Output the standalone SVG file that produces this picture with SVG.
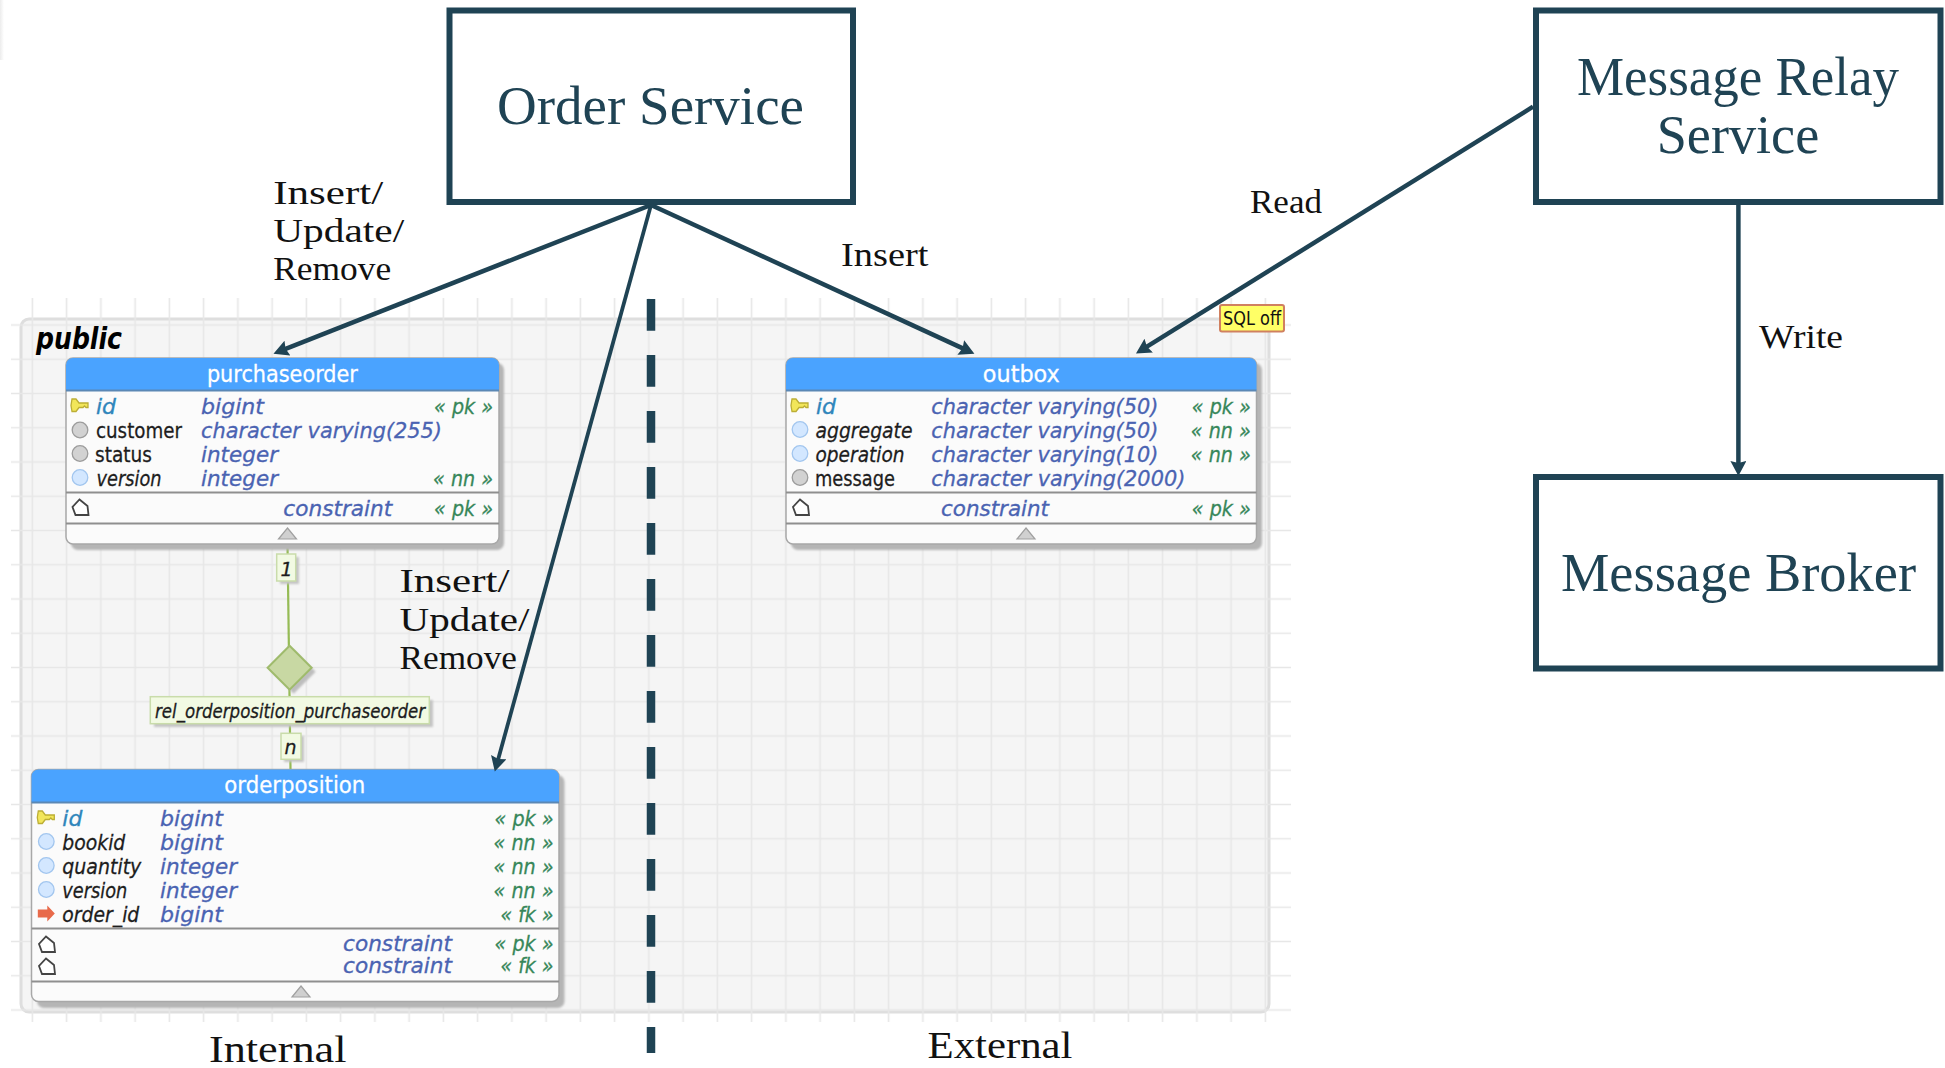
<svg xmlns="http://www.w3.org/2000/svg" xmlns:xlink="http://www.w3.org/1999/xlink" width="1945" height="1068" viewBox="0 0 1945 1068">
<style>
.box{fill:#fff;stroke:#1f4354;stroke-width:6}
.big{font-family:"Liberation Serif",serif;font-size:54px;fill:#1f4354}
.lab{font-family:"Liberation Serif",serif;font-size:34px;fill:#111}
.conn{fill:none;stroke:#1f4354;stroke-width:4.5}
.shadow{fill:#b5b5b5;filter:url(#soft)}
.body{fill:#fbfbfb;stroke:#a8a8a8;stroke-width:1.5}
.head{fill:#4aa3ff}
.headline{stroke:#5b88b5;stroke-width:2}
.div{stroke:#8f8f8f;stroke-width:2}
.tri{fill:#d0d0d0;stroke:#a0a0a0;stroke-width:1.2}
text.t{font-family:"DejaVu Sans",sans-serif;font-size:21.5px;stroke-width:.3px}
text.title{fill:#fff;stroke:#fff;font-size:22.5px}
.pkn{fill:#2f86bb;stroke:#2f86bb;font-style:italic}
.nn{fill:#1d1d1d;stroke:#1d1d1d;font-style:italic}
.pl{fill:#1d1d1d;stroke:#1d1d1d}
.ty{fill:#4a63b2;stroke:#4a63b2;font-style:italic}
.st{fill:#37875a;stroke:#37875a;font-style:italic}
.note{fill:#f2fae3;stroke:#c9dcaa;stroke-width:1.5}
.noteS{fill:#c4c4c4;filter:url(#soft)}
.rel{fill:none;stroke:#95bb55;stroke-width:2.2}
</style>
<defs>
<filter id="soft" x="-10%" y="-10%" width="120%" height="120%"><feGaussianBlur stdDeviation="1.2"/></filter>
<linearGradient id="edge" x1="0" x2="1" y1="0" y2="0"><stop offset="0" stop-color="#ececec"/><stop offset="1" stop-color="#fff"/></linearGradient>
<pattern id="grid" patternUnits="userSpaceOnUse" x="15.275" y="307.875" width="34.25" height="34.25"><path d="M17.125 0V34.25M0 17.125H34.25" fill="none" stroke="#e7e7e7" stroke-width="1.6"/></pattern>
<marker id="arr" markerUnits="userSpaceOnUse" markerWidth="16" markerHeight="18" refX="4" refY="8" orient="auto"><path d="M0,0 L15,8 L0,16 L2,8 Z" fill="#1f4354"/></marker>
<g id="key"><path d="M-8,-7 h4 l3,4 h9 v4.500 h-2 l-1.500,-1.500 -1.500,1.500 h-4 l-3,4 h-4 l-1,-6 z" fill="#f2e65a" stroke="#bcae35" stroke-width="1.300"/></g>
<circle id="cg" r="7.800" fill="#d2d2d2" stroke="#9c9c9c" stroke-width="1.300"/>
<circle id="cb" r="7.800" fill="#d3e7ff" stroke="#a2c6ef" stroke-width="1.300"/>
<path id="pent" d="M-1,-8.500 L7,-2 L8,7 L-5,7 L-8,-1 Z" fill="#fff" stroke="#444" stroke-width="1.800"/>
<path id="fk" d="M8.500,0 L1,-8 V-4 H-8.500 V4 H1 V8 Z" fill="#e86a4a"/>
</defs>
<rect x="0" y="0" width="4" height="60" fill="url(#edge)"/>

<g id="schema-public">
<rect x="21" y="319" width="1248" height="693" rx="8" fill="#f5f5f5" stroke="#dedede" stroke-width="3"/>
<rect x="11" y="298" width="1280" height="724" fill="url(#grid)"/>
<text class="t" x="36" y="349" style="font-size:30px;font-weight:bold;font-style:italic;fill:#000" textLength="86" lengthAdjust="spacingAndGlyphs">public</text>
</g>
<g id="sql-off">
<rect x="1220" y="305" width="64" height="26.500" rx="2" fill="#ffff66" stroke="#d08060" stroke-width="2"/>
<text class="t" x="1223" y="325" style="font-size:19px;fill:#111" textLength="58" lengthAdjust="spacingAndGlyphs">SQL off</text>
</g>

<g id="relationship">
<path class="rel" d="M287.500,544 L290.500,769"/>
<rect class="noteS" x="280" y="557" width="19" height="27"/>
<rect class="note" x="276.700" y="554" width="19" height="27"/>
<text class="t nn" x="286.500" y="576" text-anchor="middle" style="font-size:19px">1</text>
<path d="M293.600,649.700 L315.600,671.700 L293.600,693.700 L271.600,671.700 Z" fill="#bdbdbd" filter="url(#soft)"/>
<path d="M289.600,645.700 L311.600,667.700 L289.600,689.700 L267.600,667.700 Z" fill="#c8d8a3" stroke="#9fbb6c" stroke-width="2"/>
<rect class="noteS" x="154" y="700" width="279" height="27"/>
<rect class="note" x="150.300" y="696.700" width="279" height="27"/>
<text class="t nn" x="155" y="718" style="font-size:19.500px" textLength="270" lengthAdjust="spacingAndGlyphs">rel_orderposition_purchaseorder</text>
<rect class="noteS" x="284" y="736" width="20" height="26"/>
<rect class="note" x="281" y="733.300" width="20" height="26"/>
<text class="t nn" x="290.500" y="754" text-anchor="middle" style="font-size:19px">n</text>
</g>

<g id="purchaseorder">
<rect class="shadow" x="71" y="363" width="433" height="187" rx="7"/>
<rect class="body" x="66" y="358" width="433" height="186" rx="7"/>
<path class="head" d="M66,390 V365 a7,7 0 0 1 7,-7 H492 a7,7 0 0 1 7,7 V390 Z"/>
<path class="headline" d="M66,390.500H499"/>
<text class="t title" x="282.400" y="381.700" text-anchor="middle" textLength="151" lengthAdjust="spacingAndGlyphs">purchaseorder</text>
<use href="#key" x="80" y="406"/><text class="t pkn" x="96" y="414" textLength="20" lengthAdjust="spacingAndGlyphs">id</text><text class="t ty" x="201" y="414" textLength="63" lengthAdjust="spacingAndGlyphs">bigint</text><text class="t st" x="493" y="414" text-anchor="end" textLength="59" lengthAdjust="spacingAndGlyphs">« pk »</text>
<use href="#cg" x="80" y="430"/><text class="t pl" x="96" y="438" textLength="86" lengthAdjust="spacingAndGlyphs">customer</text><text class="t ty" x="201" y="438" textLength="241" lengthAdjust="spacingAndGlyphs">character varying(255)</text>
<use href="#cg" x="80" y="453.500"/><text class="t pl" x="95" y="462" textLength="57" lengthAdjust="spacingAndGlyphs">status</text><text class="t ty" x="201" y="462" textLength="77" lengthAdjust="spacingAndGlyphs">integer</text>
<use href="#cb" x="80" y="477.500"/><text class="t nn" x="96.500" y="486" textLength="65" lengthAdjust="spacingAndGlyphs">version</text><text class="t ty" x="201" y="486" textLength="77" lengthAdjust="spacingAndGlyphs">integer</text><text class="t st" x="493" y="486" text-anchor="end" textLength="60" lengthAdjust="spacingAndGlyphs">« nn »</text>
<path class="div" d="M66,492.500H499M66,523.500H499"/>
<use href="#pent" x="80.500" y="508"/><text class="t ty" x="283.300" y="515.700" textLength="109" lengthAdjust="spacingAndGlyphs">constraint</text><text class="t st" x="493" y="515.700" text-anchor="end" textLength="59" lengthAdjust="spacingAndGlyphs">« pk »</text>
<path class="tri" d="M287.500,528 L296.500,539 H278.500 Z"/>
</g>

<g id="outbox">
<rect class="shadow" x="791" y="363" width="471" height="187" rx="7"/>
<rect class="body" x="786" y="358" width="470.500" height="186" rx="7"/>
<path class="head" d="M786,390 V365 a7,7 0 0 1 7,-7 H1249.500 a7,7 0 0 1 7,7 V390 Z"/>
<path class="headline" d="M786,390.500H1256.500"/>
<text class="t title" x="1021.300" y="381.700" text-anchor="middle" textLength="77" lengthAdjust="spacingAndGlyphs">outbox</text>
<use href="#key" x="800" y="406"/><text class="t pkn" x="816" y="414" textLength="20" lengthAdjust="spacingAndGlyphs">id</text><text class="t ty" x="931.300" y="414" textLength="227" lengthAdjust="spacingAndGlyphs">character varying(50)</text><text class="t st" x="1250.800" y="414" text-anchor="end" textLength="59" lengthAdjust="spacingAndGlyphs">« pk »</text>
<use href="#cb" x="800" y="429.500"/><text class="t nn" x="815.500" y="438" textLength="97" lengthAdjust="spacingAndGlyphs">aggregate</text><text class="t ty" x="931.300" y="438" textLength="227" lengthAdjust="spacingAndGlyphs">character varying(50)</text><text class="t st" x="1250.800" y="438" text-anchor="end" textLength="60" lengthAdjust="spacingAndGlyphs">« nn »</text>
<use href="#cb" x="800" y="453.500"/><text class="t nn" x="815.500" y="462" textLength="89" lengthAdjust="spacingAndGlyphs">operation</text><text class="t ty" x="931.300" y="462" textLength="227" lengthAdjust="spacingAndGlyphs">character varying(10)</text><text class="t st" x="1250.800" y="462" text-anchor="end" textLength="60" lengthAdjust="spacingAndGlyphs">« nn »</text>
<use href="#cg" x="800" y="477.500"/><text class="t pl" x="815" y="486" textLength="80" lengthAdjust="spacingAndGlyphs">message</text><text class="t ty" x="931.300" y="486" textLength="254" lengthAdjust="spacingAndGlyphs">character varying(2000)</text>
<path class="div" d="M786,492.500H1256.500M786,523.500H1256.500"/>
<use href="#pent" x="801" y="508"/><text class="t ty" x="941" y="515.700" textLength="108" lengthAdjust="spacingAndGlyphs">constraint</text><text class="t st" x="1250.800" y="515.700" text-anchor="end" textLength="59" lengthAdjust="spacingAndGlyphs">« pk »</text>
<path class="tri" d="M1026,528 L1035,539 H1017 Z"/>
</g>

<g id="orderposition">
<rect class="shadow" x="37" y="775" width="527.500" height="233" rx="7"/>
<rect class="body" x="31.500" y="769.500" width="527.500" height="232" rx="7"/>
<path class="head" d="M31.500,802 V776.500 a7,7 0 0 1 7,-7 H552 a7,7 0 0 1 7,7 V802 Z"/>
<path class="headline" d="M31.500,802.500H559"/>
<text class="t title" x="294.800" y="793" text-anchor="middle" textLength="141" lengthAdjust="spacingAndGlyphs">orderposition</text>
<use href="#key" x="46.300" y="818"/><text class="t pkn" x="62.300" y="826" textLength="20" lengthAdjust="spacingAndGlyphs">id</text><text class="t ty" x="160" y="826" textLength="63" lengthAdjust="spacingAndGlyphs">bigint</text><text class="t st" x="553.500" y="826" text-anchor="end" textLength="59" lengthAdjust="spacingAndGlyphs">« pk »</text>
<use href="#cb" x="46.300" y="841.500"/><text class="t nn" x="62.300" y="850" textLength="63" lengthAdjust="spacingAndGlyphs">bookid</text><text class="t ty" x="160" y="850" textLength="63" lengthAdjust="spacingAndGlyphs">bigint</text><text class="t st" x="553.500" y="850" text-anchor="end" textLength="60" lengthAdjust="spacingAndGlyphs">« nn »</text>
<use href="#cb" x="46.300" y="865.500"/><text class="t nn" x="62.300" y="874" textLength="79" lengthAdjust="spacingAndGlyphs">quantity</text><text class="t ty" x="160" y="874" textLength="77" lengthAdjust="spacingAndGlyphs">integer</text><text class="t st" x="553.500" y="874" text-anchor="end" textLength="60" lengthAdjust="spacingAndGlyphs">« nn »</text>
<use href="#cb" x="46.300" y="889.500"/><text class="t nn" x="62.300" y="898" textLength="65" lengthAdjust="spacingAndGlyphs">version</text><text class="t ty" x="160" y="898" textLength="77" lengthAdjust="spacingAndGlyphs">integer</text><text class="t st" x="553.500" y="898" text-anchor="end" textLength="60" lengthAdjust="spacingAndGlyphs">« nn »</text>
<use href="#fk" x="46.300" y="913.500"/><text class="t nn" x="62.300" y="922" textLength="77" lengthAdjust="spacingAndGlyphs">order_id</text><text class="t ty" x="160" y="922" textLength="63" lengthAdjust="spacingAndGlyphs">bigint</text><text class="t st" x="553.500" y="922" text-anchor="end" textLength="53" lengthAdjust="spacingAndGlyphs">« fk »</text>
<path class="div" d="M31.500,928.500H559M31.500,981.500H559"/>
<use href="#pent" x="47" y="945"/><text class="t ty" x="343" y="951" textLength="109" lengthAdjust="spacingAndGlyphs">constraint</text><text class="t st" x="553.500" y="951" text-anchor="end" textLength="59" lengthAdjust="spacingAndGlyphs">« pk »</text>
<use href="#pent" x="47" y="967"/><text class="t ty" x="343" y="973" textLength="109" lengthAdjust="spacingAndGlyphs">constraint</text><text class="t st" x="553.500" y="973" text-anchor="end" textLength="53" lengthAdjust="spacingAndGlyphs">« fk »</text>
<path class="tri" d="M301,986 L310,997 H292 Z"/>
</g>

<g id="order-service">
<rect class="box" x="449.500" y="10.500" width="403.500" height="191.500"/>
<text class="big" x="497" y="124" textLength="307" lengthAdjust="spacingAndGlyphs">Order Service</text>
</g>
<g id="message-relay-service">
<rect class="box" x="1536" y="10.500" width="404.500" height="191.500"/>
<text class="big" x="1577" y="95" textLength="322" lengthAdjust="spacingAndGlyphs">Message Relay</text>
<text class="big" x="1656.700" y="153" textLength="162.500" lengthAdjust="spacingAndGlyphs">Service</text>
</g>
<g id="message-broker">
<rect class="box" x="1536" y="477" width="404.500" height="191.500"/>
<text class="big" x="1561" y="591" textLength="355" lengthAdjust="spacingAndGlyphs">Message Broker</text>
</g>

<g id="connectors">
<path class="conn" marker-end="url(#arr)" d="M651,205 L283.700,349.600"/>
<path class="conn" marker-end="url(#arr)" d="M651,205 L497.700,761" style="stroke-width:3.800"/>
<path class="conn" marker-end="url(#arr)" d="M651,205 L964.400,349.100"/>
<path class="conn" marker-end="url(#arr)" d="M1533,106.700 L1145.300,347.700"/>
<path class="conn" marker-end="url(#arr)" d="M1738.400,205 V465"/>
<path d="M651,299 V1053" fill="none" stroke="#1f4354" stroke-width="8.500" stroke-dasharray="31.700 24.300"/>
</g>

<g id="labels">
<text class="lab" x="273.200" y="204" textLength="110" lengthAdjust="spacingAndGlyphs">Insert/</text>
<text class="lab" x="273.200" y="242" textLength="131" lengthAdjust="spacingAndGlyphs">Update/</text>
<text class="lab" x="273.200" y="280" textLength="118" lengthAdjust="spacingAndGlyphs">Remove</text>
<text class="lab" x="841" y="266" textLength="87.500" lengthAdjust="spacingAndGlyphs">Insert</text>
<text class="lab" x="1250" y="213" textLength="72" lengthAdjust="spacingAndGlyphs">Read</text>
<text class="lab" x="1759" y="348" textLength="84" lengthAdjust="spacingAndGlyphs">Write</text>
<text class="lab" x="399.500" y="592" textLength="110" lengthAdjust="spacingAndGlyphs">Insert/</text>
<text class="lab" x="399.500" y="631" textLength="130" lengthAdjust="spacingAndGlyphs">Update/</text>
<text class="lab" x="399.500" y="669" textLength="117.500" lengthAdjust="spacingAndGlyphs">Remove</text>
<text class="lab" x="209" y="1062" style="font-size:38px" textLength="137.500" lengthAdjust="spacingAndGlyphs">Internal</text>
<text class="lab" x="927.500" y="1058" style="font-size:38px" textLength="145" lengthAdjust="spacingAndGlyphs">External</text>
</g>
</svg>
